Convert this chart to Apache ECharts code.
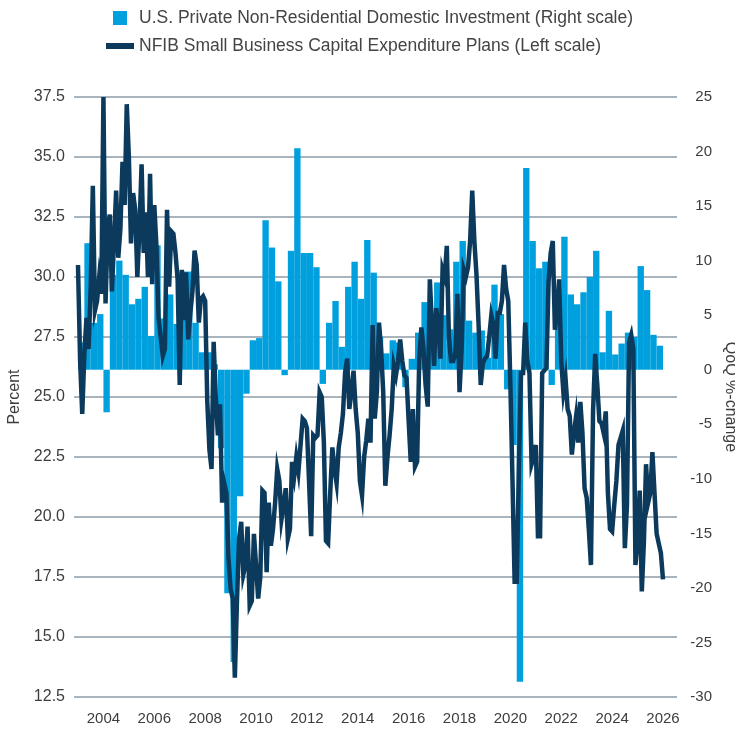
<!DOCTYPE html>
<html>
<head>
<meta charset="utf-8">
<script src="https://cdn.jsdelivr.net/npm/echarts@6/dist/echarts.min.js"></script>
<style>
  html, body { margin: 0; padding: 0; background: #fff; }
  #chart { width: 735px; height: 735px; }
</style>
</head>
<body>
<div id="chart"></div>
<script>
// NFIB small business capex plans, monthly 2003-01 .. 2026-01 (left scale, %)
const capexPlans = [
  30.5, 26.5, 24.3, 26.8, 28.3, 27.0, 29.6, 33.8, 28.6, 29.0, 30.0, 29.3, // 2003
  37.5, 28.9, 32.0, 32.6, 29.4, 31.5, 33.6, 30.8, 32.0, 34.8, 33.0, 37.2, // 2004
  35.0, 31.4, 33.5, 32.8, 30.0, 32.0, 34.7, 31.0, 32.7, 30.0, 34.3, 29.7, // 2005
  33.0, 31.3, 28.3, 27.5, 26.7, 27.0, 32.8, 29.6, 31.9, 31.8, 31.0, 29.9, // 2006
  25.5, 30.3, 28.2, 30.2, 27.4, 28.5, 29.4, 31.1, 30.5, 28.1, 29.1, 29.2, // 2007
  29.0, 24.8, 22.8, 22.0, 27.3, 25.0, 23.4, 24.7, 20.6, 21.4, 21.0, 18.3, // 2008
  17.0, 16.6, 13.3, 16.5, 19.1, 19.8, 17.6, 18.0, 19.6, 16.3, 16.5, 19.3, // 2009
  18.0, 16.6, 17.5, 21.1, 21.0, 17.7, 20.6, 18.8, 19.5, 20.6, 22.0, 21.5, // 2010
  19.9, 20.5, 21.2, 19.1, 19.5, 22.3, 21.7, 22.5, 21.9, 23.0, 24.1, 24.0, // 2011
  23.7, 21.5, 19.2, 23.4, 23.3, 23.4, 25.2, 25.0, 23.1, 19.0, 18.9, 21.0, // 2012
  22.9, 22.0, 21.4, 22.9, 23.5, 24.3, 26.0, 26.6, 24.5, 25.2, 26.1, 24.5, // 2013
  23.5, 21.5, 20.9, 22.5, 23.2, 24.1, 23.1, 28.0, 24.1, 25.2, 28.1, 27.0, // 2014
  25.2, 21.3, 22.5, 23.4, 24.5, 26.3, 25.9, 26.5, 27.4, 26.5, 25.9, 25.8, // 2015
  24.0, 22.3, 24.5, 22.1, 22.3, 26.6, 27.9, 27.0, 25.5, 24.6, 29.9, 28.0, // 2016
  26.3, 28.7, 28.0, 26.6, 30.3, 30.0, 31.3, 27.5, 26.5, 26.5, 26.8, 29.3, // 2017
  25.2, 27.0, 30.3, 30.0, 30.4, 31.5, 33.6, 31.5, 30.1, 28.0, 25.5, 26.4, // 2018
  26.6, 26.7, 27.5, 28.4, 28.0, 26.6, 28.5, 28.5, 29.0, 30.5, 29.5, 29.0, // 2019
  25.5, 21.5, 17.3, 17.3, 22.0, 26.0, 26.0, 28.1, 26.5, 26.0, 22.2, 22.5, // 2020
  23.0, 19.2, 19.2, 26.0, 26.1, 26.2, 29.8, 31.0, 31.5, 27.8, 28.5, 29.9, // 2021
  26.5, 25.2, 25.8, 24.5, 24.2, 22.6, 23.5, 24.2, 23.1, 24.8, 23.5, 21.2, // 2022
  20.8, 19.5, 18.0, 24.4, 26.8, 25.5, 24.0, 23.9, 23.5, 24.4, 21.0, 19.5, // 2023
  19.4, 20.5, 21.5, 23.0, 23.3, 23.6, 18.7, 20.5, 27.3, 27.6, 27.0, 18.0, // 2024
  19.0, 21.1, 16.9, 19.0, 22.2, 20.6, 21.0, 22.7, 21.0, 19.3, 18.9, 18.5, // 2025
  17.4                                                                    // 2026
];

// private non-residential domestic investment, QoQ %, 2003Q1 .. 2025Q4 (right scale)
const investment = [
  2.5, 11.6, 4.3, 5.1,     // 2003
  -3.9, 8.7, 10.0, 8.7,    // 2004
  6.0, 6.5, 7.6, 3.1,      // 2005
  11.4, 4.7, 6.9, 4.2,     // 2006
  9.0, 9.0, 4.3, 1.6,      // 2007
  1.6, 0.5, -7.2, -20.5,   // 2008
  -26.8, -11.6, -2.2, 2.7, // 2009
  2.9, 13.7, 11.2, 8.1,    // 2010
  -0.5, 10.9, 20.3, 10.7,  // 2011
  10.7, 9.4, -1.3, 4.3,    // 2012
  6.3, 2.1, 7.6, 9.9,      // 2013
  6.5, 11.9, 8.9, 3.0,     // 2014
  1.5, 2.7, 2.5, -1.6,     // 2015
  1.0, 3.4, 6.2, 3.6,      // 2016
  8.0, 5.0, 3.7, 9.9,      // 2017
  11.8, 4.5, 3.4, 3.6,     // 2018
  1.1, 7.8, 5.1, -1.8,     // 2019
  -6.9, -28.6, 18.5, 11.8, // 2020
  9.3, 9.9, -1.4, 4.2,     // 2021
  12.2, 6.9, 6.0, 7.1,     // 2022
  8.5, 10.9, 1.6, 5.4,     // 2023
  1.4, 2.4, 3.4, 3.0,      // 2024
  9.5, 7.3, 3.2, 2.2       // 2025
];

const yearTicks = ["2004", "2006", "2008", "2010", "2012", "2014", "2016", "2018", "2020", "2022", "2024", "2026"];

const barName = "U.S. Private Non-Residential Domestic Investment (Right scale)";
const lineName = "NFIB Small Business Capital Expenditure Plans (Left scale)";

const months = [];
for (let y = 2003; months.length < capexPlans.length; y++) {
  for (let m = 1; m <= 12 && months.length < capexPlans.length; m++) {
    months.push(y + "-" + String(m).padStart(2, "0"));
  }
}
const quarters = [];
for (let y = 2003; quarters.length < investment.length; y++) {
  for (let q = 1; q <= 4; q++) quarters.push(y + "Q" + q);
}

const font = "'Liberation Sans', Arial, sans-serif";
const textColor = "#3d3d3d";
const gridColor = "#a9b4bd";

const chart = echarts.init(document.getElementById("chart"));
const option = {
  animation: false,
  backgroundColor: "#fff",
  textStyle: { fontFamily: font },
  legend: {
    orient: "vertical",
    left: 101,
    top: 4,
    itemWidth: 28,
    itemHeight: 14,
    itemGap: 10,
    symbolKeepAspect: true,
    textStyle: { fontSize: 17.5, color: "#444", fontFamily: font },
    data: [
      { name: barName, icon: "path://M0,0H10V10H0Z" },
      { name: lineName, icon: "path://M0,0H28V6H0Z" },
    ],
  },
  grid: [
    // gridlines + tick labels
    { left: 74, right: 58, top: 97, bottom: 38, outerBoundsMode: "none" },
    // data area
    { left: 78, right: 72, top: 97, bottom: 38, outerBoundsMode: "none" },
  ],
  xAxis: [
    { gridIndex: 0, type: "value", show: false, min: 0, max: 1 },
    {
      gridIndex: 1,
      type: "category",
      data: months,
      boundaryGap: false,
      axisLine: { show: false },
      axisTick: { show: false },
      splitLine: { show: false },
      axisLabel: {
        margin: 14,
        fontSize: 15,
        color: textColor,
        interval: (i, val) => val.endsWith("-01") && yearTicks.includes(val.slice(0, 4)),
        formatter: (val) => val.slice(0, 4),
      },
    },
    { gridIndex: 1, type: "category", data: quarters, boundaryGap: true, show: false },
  ],
  yAxis: [
    {
      gridIndex: 0,
      type: "value",
      position: "left",
      min: 12.5,
      max: 37.5,
      interval: 2.5,
      name: "Percent",
      nameLocation: "middle",
      nameGap: 50,
      nameTextStyle: { fontSize: 16, color: textColor },
      axisLine: { show: false },
      axisTick: { show: false },
      axisLabel: { fontSize: 16, color: textColor, margin: 9, formatter: (v) => v.toFixed(1) },
      splitLine: { lineStyle: { color: gridColor, width: 2 } },
    },
    {
      gridIndex: 0,
      type: "value",
      position: "right",
      min: -30,
      max: 25,
      interval: 5,
      name: "QoQ %-change",
      nameLocation: "middle",
      nameRotate: -90,
      nameGap: 38,
      nameTextStyle: { fontSize: 16, color: textColor },
      axisLine: { show: false },
      axisTick: { show: false },
      axisLabel: { fontSize: 15, color: textColor, margin: 35, align: "right" },
      splitLine: { show: false },
    },
    { gridIndex: 1, type: "value", min: 12.5, max: 37.5, show: false, splitLine: { show: false } },
    { gridIndex: 1, type: "value", position: "right", min: -30, max: 25, show: false, splitLine: { show: false } },
  ],
  series: [
    {
      name: barName,
      type: "bar",
      xAxisIndex: 2,
      yAxisIndex: 3,
      barCategoryGap: "0%",
      itemStyle: { color: "#00a0df" },
      z: 2,
      data: investment,
    },
    {
      name: lineName,
      type: "line",
      xAxisIndex: 1,
      yAxisIndex: 2,
      showSymbol: false,
      symbol: "none",
      itemStyle: { color: "#0b3a5c" },
      lineStyle: { color: "#0b3a5c", width: 4.5, join: "miter" },
      z: 3,
      data: capexPlans,
    },
  ],
};
chart.setOption(option);
</script>
</body>
</html>
